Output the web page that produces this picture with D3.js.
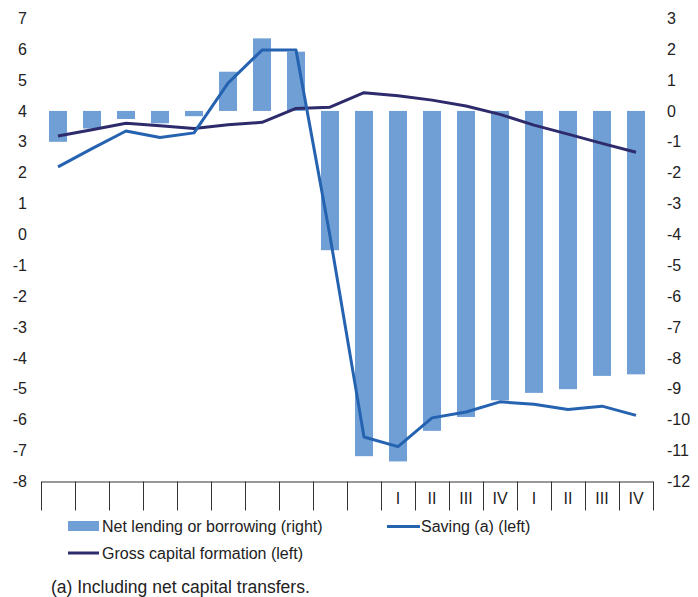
<!DOCTYPE html>
<html><head><meta charset="utf-8">
<script src="https://cdn.jsdelivr.net/npm/d3@7"></script>
<style>body{margin:0;background:#fff}svg{display:block}text{font-family:"Liberation Sans",Arial,sans-serif}</style>
</head><body>
<script>
const categories = ["c1","c2","c3","c4","c5","c6","c7","c8","c9","c10","q1a","q2a","q3a","q4a","q1b","q2b","q3b","q4b"];
const tickLabels = ["","","","","","","","","","","I","II","III","IV","I","II","III","IV"];
const netLending = [-1.0,-0.57,-0.26,-0.4,-0.17,1.27,2.35,1.92,-4.51,-11.18,-11.35,-10.36,-9.91,-9.37,-9.13,-9.01,-8.58,-8.53];
const saving = [2.19,2.78,3.35,3.14,3.29,4.9,5.97,5.97,-0.05,-6.56,-6.87,-5.94,-5.75,-5.42,-5.5,-5.67,-5.56,-5.86];
const gcf = [3.19,3.39,3.6,3.52,3.43,3.55,3.63,4.08,4.12,4.59,4.49,4.35,4.16,3.89,3.54,3.25,2.95,2.66];
const leftTicks = d3.range(-8, 8, 1);
const rightTicks = d3.range(-12, 4, 1);

const W = 698, H = 597;
const svg = d3.select("body").append("svg").attr("width", W).attr("height", H);

const x0 = 41, x1 = 653, yTop = 18.3, yBot = 481.5;
const pi = 0.47;
const x = d3.scaleBand().domain(categories).range([x0, x1]).paddingInner(pi).paddingOuter(pi/2);
const yL = d3.scaleLinear().domain([-8, 7]).range([yBot, yTop]);
const yR = d3.scaleLinear().domain([-12, 3]).range([yBot, yTop]);
const cx = i => x(categories[i]) + x.bandwidth()/2;
const fmt = d => String(d);

// bars
svg.append("g").selectAll("rect").data(netLending).join("rect")
  .attr("x", (d,i) => x(categories[i]))
  .attr("width", x.bandwidth())
  .attr("y", d => yR(Math.max(0,d)))
  .attr("height", d => Math.abs(yR(d) - yR(0)))
  .attr("fill", "#6f9fd5");

// lines
const line = d3.line().x((d,i) => cx(i)).y(d => yL(d));
svg.append("path").datum(gcf).attr("d", line).attr("fill","none")
  .attr("stroke","#2d2b6b").attr("stroke-width",3).attr("stroke-linejoin","round");
svg.append("path").datum(saving).attr("d", line).attr("fill","none")
  .attr("stroke","#2563b1").attr("stroke-width",3).attr("stroke-linejoin","round");

// x axis with separators
const xi = d3.scaleLinear().domain([0, categories.length]).range([x0, x1]);
const gx = svg.append("g").attr("transform", `translate(0,${yBot})`)
  .call(d3.axisBottom(xi).tickValues(d3.range(categories.length+1)).tickSize(29).tickSizeOuter(0).tickFormat(""));
gx.select(".domain").attr("stroke","#333").attr("stroke-width",1.2);
gx.selectAll(".tick line").attr("stroke","#333");
const gxl = svg.append("g").attr("transform", `translate(0,${yBot})`)
  .call(d3.axisBottom(x).tickSize(0).tickFormat((d,i) => tickLabels[i]));
gxl.select(".domain").remove();
gxl.selectAll("text").attr("font-size",16).attr("fill","#222").attr("dy",0).attr("y",22);

// y axes
const gl = svg.append("g").attr("transform","translate(27,0)")
  .call(d3.axisLeft(yL).tickValues(leftTicks).tickSize(0).tickFormat(fmt));
gl.select(".domain").remove();
gl.selectAll("text").attr("font-size",16).attr("fill","#222").attr("x",0);
const gr = svg.append("g").attr("transform","translate(667,0)")
  .call(d3.axisRight(yR).tickValues(rightTicks).tickSize(0).tickFormat(fmt));
gr.select(".domain").remove();
gr.selectAll("text").attr("font-size",16).attr("fill","#222").attr("x",0);

// legend
const lg = svg.append("g").attr("font-size",16).attr("fill","#222");
lg.append("rect").attr("x",68).attr("y",521).attr("width",31).attr("height",10).attr("fill","#6f9fd5");
lg.append("text").attr("x",102).attr("y",532).text("Net lending or borrowing (right)");
lg.append("line").attr("x1",387).attr("x2",420).attr("y1",526.5).attr("y2",526.5).attr("stroke","#2563b1").attr("stroke-width",3);
lg.append("text").attr("x",421).attr("y",532).text("Saving (a) (left)");
lg.append("line").attr("x1",68).attr("x2",99).attr("y1",553).attr("y2",553).attr("stroke","#2d2b6b").attr("stroke-width",3);
lg.append("text").attr("x",102).attr("y",559).text("Gross capital formation (left)");
svg.append("text").attr("x",51).attr("y",593).attr("font-size",17.5).attr("fill","#222")
  .text("(a) Including net capital transfers.");
</script>
</body></html>
